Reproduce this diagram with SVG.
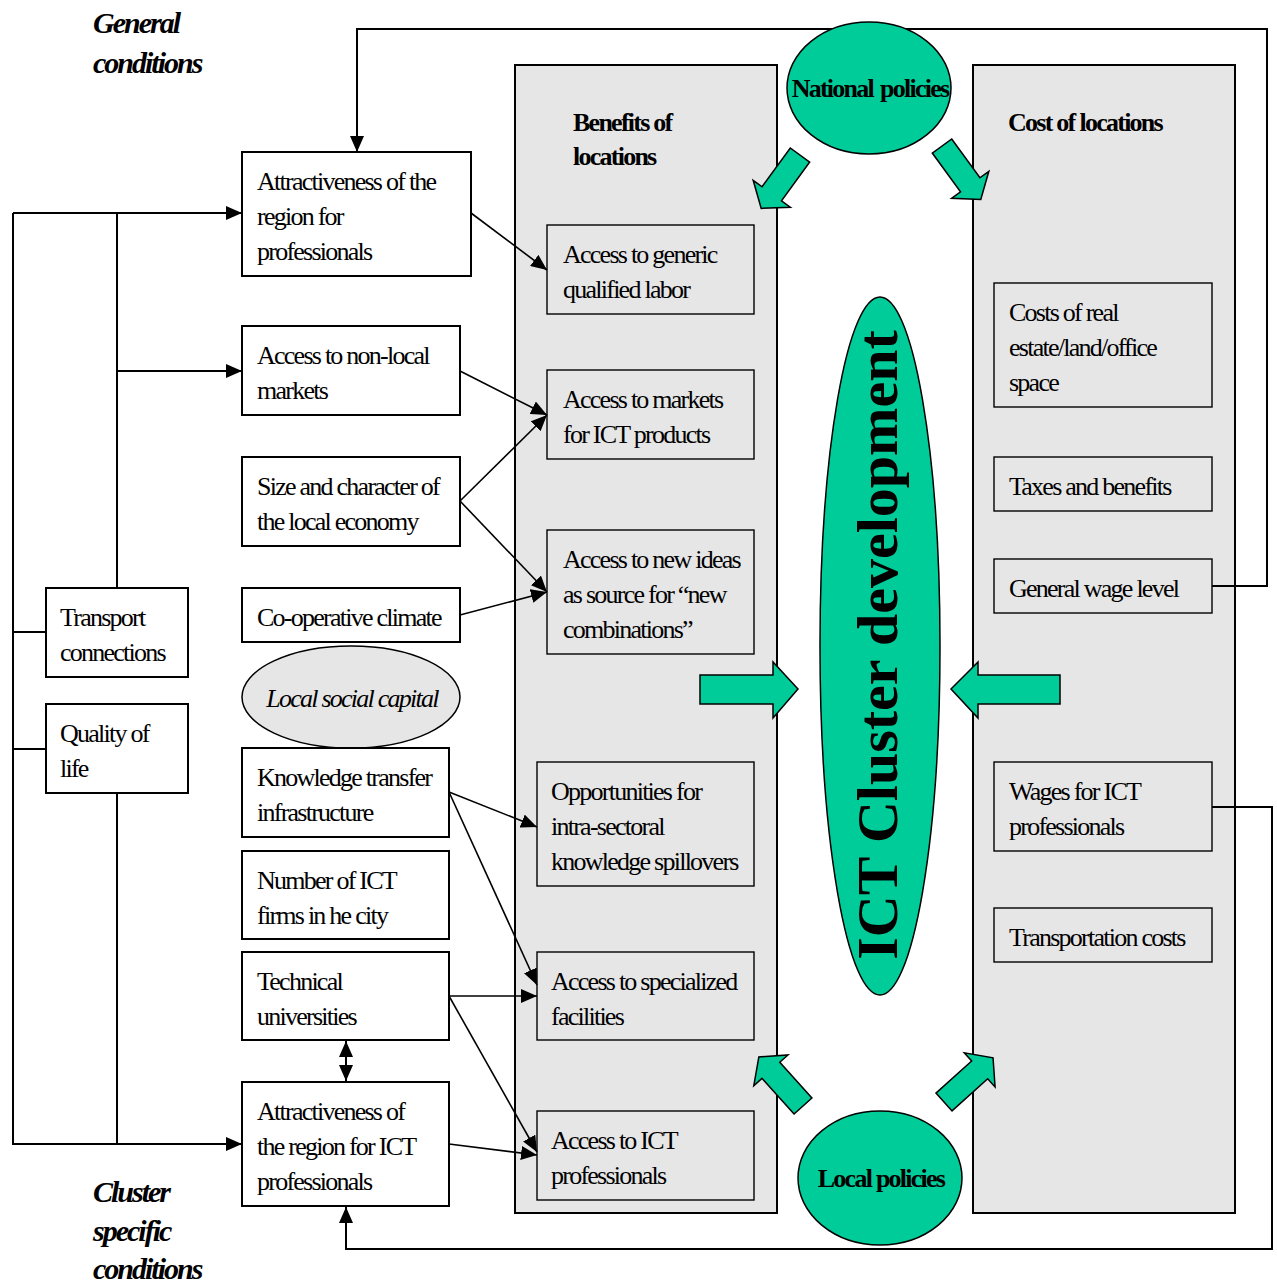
<svg xmlns="http://www.w3.org/2000/svg" width="1277" height="1286" viewBox="0 0 1277 1286">
  <style>
    .t { font-family: "Liberation Serif", "Times New Roman", serif; font-size: 26px; letter-spacing: -1.75px; fill: #000; }
    .b { font-weight: bold; }
    .i { font-style: italic; }
    .h { font-size: 30px; letter-spacing: -2px; }
    .box { fill: #fff; stroke: #000; stroke-width: 2; }
    .ibox { fill: #e6e6e6; stroke: #000; stroke-width: 1.4; }
    .panel { fill: #e6e6e6; stroke: #000; stroke-width: 2; }
    .green { fill: #00cc99; stroke: #000; stroke-width: 1.5; }
    .ln { fill: none; stroke: #000; stroke-width: 2; }
    .dl { fill: none; stroke: #000; stroke-width: 1.6; }
  </style>
  <defs>
    <marker id="ah" viewBox="0 0 16 14" refX="16" refY="7" markerWidth="16" markerHeight="14" markerUnits="userSpaceOnUse" orient="auto-start-reverse">
      <path d="M0,0 L16,7 L0,14 z" fill="#000"/>
    </marker>
    <polygon id="blockDiag" points="0,-12 48,-12 48,-23 66,0 48,23 48,12 0,12"/>
  </defs>

  <rect width="1277" height="1286" fill="#fff"/>

  <!-- side headings -->
  <g id="heading-general">
    <text class="t b i h" x="93" y="33">General</text>
    <text class="t b i h" x="93" y="73">conditions</text>
  </g>
  <g id="heading-cluster">
    <text class="t b i h" x="93" y="1202">Cluster</text>
    <text class="t b i h" x="93" y="1241">specific</text>
    <text class="t b i h" x="93" y="1279">conditions</text>
  </g>

  <!-- location panels -->
  <g id="panel-benefits">
    <rect class="panel" x="515" y="65" width="262" height="1148"/>
    <text class="t b" x="573" y="131">Benefits of</text>
    <text class="t b" x="573" y="165">locations</text>
  </g>
  <g id="panel-costs">
    <rect class="panel" x="973" y="65" width="262" height="1148"/>
    <text class="t b" x="1008" y="131">Cost of<tspan dx="5">locations</tspan></text>
  </g>

  <!-- benefit items -->
  <g id="b-generic-labor">
    <rect class="ibox" x="547" y="225" width="207" height="89"/>
    <text class="t" x="563" y="263">Access to generic</text>
    <text class="t" x="563" y="298">qualified labor</text>
  </g>
  <g id="b-markets">
    <rect class="ibox" x="547" y="370" width="207" height="89"/>
    <text class="t" x="563" y="408">Access to markets</text>
    <text class="t" x="563" y="443">for ICT products</text>
  </g>
  <g id="b-new-ideas">
    <rect class="ibox" x="547" y="530" width="207" height="124"/>
    <text class="t" x="563" y="568">Access to new ideas</text>
    <text class="t" x="563" y="603">as source for “new</text>
    <text class="t" x="563" y="638">combinations”</text>
  </g>
  <g id="b-spillovers">
    <rect class="ibox" x="537" y="762" width="217" height="124"/>
    <text class="t" x="551" y="800">Opportunities for</text>
    <text class="t" x="551" y="835">intra-sectoral</text>
    <text class="t" x="551" y="870">knowledge spillovers</text>
  </g>
  <g id="b-facilities">
    <rect class="ibox" x="537" y="952" width="217" height="88"/>
    <text class="t" x="551" y="990">Access to specialized</text>
    <text class="t" x="551" y="1025">facilities</text>
  </g>
  <g id="b-ict-professionals">
    <rect class="ibox" x="537" y="1111" width="217" height="89"/>
    <text class="t" x="551" y="1149">Access to ICT</text>
    <text class="t" x="551" y="1184">professionals</text>
  </g>

  <!-- cost items -->
  <g id="c-real-estate">
    <rect class="ibox" x="994" y="283" width="218" height="124"/>
    <text class="t" x="1009" y="321">Costs of real</text>
    <text class="t" x="1009" y="356">estate/land/office</text>
    <text class="t" x="1009" y="391">space</text>
  </g>
  <g id="c-taxes">
    <rect class="ibox" x="994" y="457" width="218" height="54"/>
    <text class="t" x="1009" y="495">Taxes and benefits</text>
  </g>
  <g id="c-wage-level">
    <rect class="ibox" x="994" y="559" width="218" height="54"/>
    <text class="t" x="1009" y="597">General wage level</text>
  </g>
  <g id="c-ict-wages">
    <rect class="ibox" x="994" y="762" width="218" height="89"/>
    <text class="t" x="1009" y="800">Wages for ICT</text>
    <text class="t" x="1009" y="835">professionals</text>
  </g>
  <g id="c-transport">
    <rect class="ibox" x="994" y="908" width="218" height="54"/>
    <text class="t" x="1009" y="946">Transportation costs</text>
  </g>

  <!-- connectors -->
  <g id="connectors">
    <!-- feedback loops -->
    <path class="ln" d="M1212,586 H1267 V29 H357 V152" marker-end="url(#ah)"/>
    <path class="ln" d="M1212,807 H1272 V1249 H346 V1207" marker-end="url(#ah)"/>
    <!-- general-condition tree -->
    <path class="ln" d="M13,213 H242" marker-end="url(#ah)"/>
    <path class="ln" d="M117,371 H242" marker-end="url(#ah)"/>
    <path class="ln" d="M13,213 V1144 H242" marker-end="url(#ah)"/>
    <path class="ln" d="M117,213 V588"/>
    <path class="ln" d="M117,793 V1144"/>
    <path class="ln" d="M13,632 H46"/>
    <path class="ln" d="M13,749 H46"/>
    <!-- double arrow -->
    <path class="ln" d="M346,1041 V1081" marker-start="url(#ah)" marker-end="url(#ah)"/>
    <!-- factor to benefit links -->
    <path class="dl" d="M471,213 L547,270" marker-end="url(#ah)"/>
    <path class="dl" d="M460,371 L547,415" marker-end="url(#ah)"/>
    <path class="dl" d="M460,501 L547,415" marker-end="url(#ah)"/>
    <path class="dl" d="M460,501 L547,592" marker-end="url(#ah)"/>
    <path class="dl" d="M460,615 L547,592" marker-end="url(#ah)"/>
    <path class="dl" d="M449,792 L537,827" marker-end="url(#ah)"/>
    <path class="dl" d="M449,792 L537,985" marker-end="url(#ah)"/>
    <path class="dl" d="M449,996 L537,996" marker-end="url(#ah)"/>
    <path class="dl" d="M449,996 L537,1152" marker-end="url(#ah)"/>
    <path class="dl" d="M449,1144 L537,1155" marker-end="url(#ah)"/>
  </g>

  <!-- conditions -->
  <g id="n-attract-general">
    <rect class="box" x="242" y="152" width="229" height="124"/>
    <text class="t" x="257" y="190">Attractiveness of the</text>
    <text class="t" x="257" y="225">region for</text>
    <text class="t" x="257" y="260">professionals</text>
  </g>
  <g id="n-nonlocal-markets">
    <rect class="box" x="242" y="326" width="218" height="89"/>
    <text class="t" x="257" y="364">Access to non-local</text>
    <text class="t" x="257" y="399">markets</text>
  </g>
  <g id="n-local-economy">
    <rect class="box" x="242" y="457" width="218" height="89"/>
    <text class="t" x="257" y="495">Size and character of</text>
    <text class="t" x="257" y="530">the local economy</text>
  </g>
  <g id="n-cooperative">
    <rect class="box" x="242" y="588" width="218" height="54"/>
    <text class="t" x="257" y="626">Co-operative climate</text>
  </g>
  <g id="n-social-capital">
    <ellipse cx="351" cy="697" rx="109" ry="51" fill="#e6e6e6" stroke="#000" stroke-width="1.5"/>
    <text class="t i" x="352" y="707" text-anchor="middle">Local social capital</text>
  </g>
  <g id="n-knowledge-transfer">
    <rect class="box" x="242" y="748" width="207" height="89"/>
    <text class="t" x="257" y="786">Knowledge transfer</text>
    <text class="t" x="257" y="821">infrastructure</text>
  </g>
  <g id="n-ict-firms">
    <rect class="box" x="242" y="851" width="207" height="88"/>
    <text class="t" x="257" y="889">Number of ICT</text>
    <text class="t" x="257" y="924">firms in he city</text>
  </g>
  <g id="n-universities">
    <rect class="box" x="242" y="952" width="207" height="88"/>
    <text class="t" x="257" y="990">Technical</text>
    <text class="t" x="257" y="1025">universities</text>
  </g>
  <g id="n-attract-ict">
    <rect class="box" x="242" y="1082" width="207" height="124"/>
    <text class="t" x="257" y="1120">Attractiveness of</text>
    <text class="t" x="257" y="1155">the region for ICT</text>
    <text class="t" x="257" y="1190">professionals</text>
  </g>
  <g id="n-transport">
    <rect class="box" x="46" y="588" width="142" height="89"/>
    <text class="t" x="60" y="626">Transport</text>
    <text class="t" x="60" y="661">connections</text>
  </g>
  <g id="n-quality">
    <rect class="box" x="46" y="704" width="142" height="89"/>
    <text class="t" x="60" y="742">Quality of</text>
    <text class="t" x="60" y="777">life</text>
  </g>

  <!-- policy levels and block arrows -->
  <g id="n-national">
    <ellipse class="green" cx="869" cy="88" rx="82" ry="66"/>
    <text class="t b" x="870" y="97" text-anchor="middle">National<tspan dx="7">policies</tspan></text>
  </g>
  <g id="n-local">
    <ellipse class="green" cx="880" cy="1178" rx="82" ry="67"/>
    <text class="t b" x="881" y="1187" text-anchor="middle">Local policies</text>
  </g>
  <g id="block-arrows">
    <use href="#blockDiag" class="green" transform="translate(800,155) rotate(126)"/>
    <use href="#blockDiag" class="green" transform="translate(942,146) rotate(54)"/>
    <use href="#blockDiag" class="green" transform="translate(803,1106) rotate(228)"/>
    <use href="#blockDiag" class="green" transform="translate(944,1102) rotate(-42)"/>
    <polygon class="green" points="700,675 773,675 773,662 798,689 773,718 773,704 700,704"/>
    <polygon class="green" points="1060,675 978,675 978,662 951,689 978,718 978,704 1060,704"/>
  </g>
  <g id="n-cluster">
    <ellipse class="green" cx="880" cy="646" rx="60" ry="349"/>
    <text class="t b" transform="translate(897,645) rotate(-90)" text-anchor="middle" style="font-size:58px;letter-spacing:0">ICT Cluster development</text>
  </g>
</svg>
